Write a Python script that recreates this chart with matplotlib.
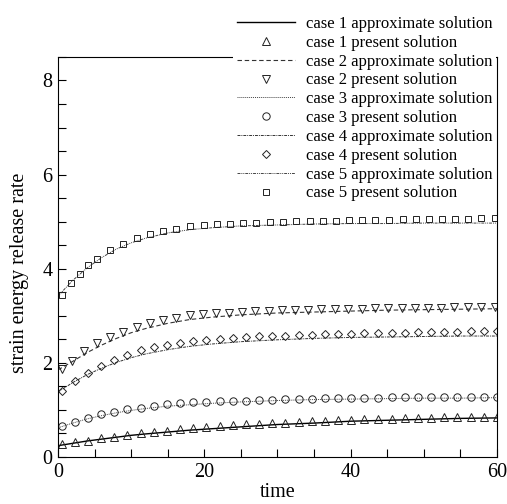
import matplotlib
matplotlib.use('Agg')
import matplotlib.pyplot as plt
from matplotlib.ticker import MultipleLocator

plt.rcParams['font.family'] = ['Liberation Serif', 'DejaVu Serif']

# marker times (present solution)
t_pts = [0.5, 2.3, 4.1, 5.9, 7.7, 9.5, 11.3, 13.1, 14.9, 16.7, 18.5, 20.3, 22.1, 23.9,
         25.7, 27.5, 29.3, 31.1, 32.9, 34.7, 36.5, 38.3, 40.1, 41.9, 43.8, 45.6, 47.4,
         49.2, 51.0, 52.8, 54.6, 56.4, 58.2, 60.0]
t_pts2 = [0.5, 1.9, 3.6, 5.3, 7.1, 8.9, 10.8, 12.6, 14.4, 16.1, 18.0, 19.8, 21.6, 23.4,
          25.1, 26.9, 28.8, 30.6, 32.4, 34.2, 36.0, 37.9, 39.7, 41.5, 43.3, 45.1, 47.0,
          48.8, 50.6, 52.4, 54.2, 56.1, 57.9, 59.8]
t_pts5 = [0.5, 1.8, 3.0, 4.1, 5.4, 7.1, 8.9, 10.8, 12.6, 14.4, 16.2, 18.1, 19.9, 21.7,
          23.5, 25.3, 27.1, 29.0, 30.8, 32.6, 34.4, 36.2, 38.0, 39.8, 41.6, 43.4, 45.3,
          47.1, 48.9, 50.7, 52.5, 54.3, 56.1, 57.9, 59.7]

case1_pts = [0.28, 0.32, 0.35, 0.40, 0.43, 0.47, 0.50, 0.54, 0.56, 0.59, 0.61, 0.63,
             0.65, 0.68, 0.70, 0.71, 0.72, 0.73, 0.74, 0.76, 0.77, 0.78, 0.79, 0.80,
             0.81, 0.81, 0.82, 0.83, 0.83, 0.84, 0.84, 0.85, 0.85, 0.85]
case2_pts = [1.88, 2.04, 2.26, 2.42, 2.55, 2.66, 2.77, 2.85, 2.91, 2.96, 3.01, 3.04,
             3.05, 3.06, 3.08, 3.10, 3.11, 3.12, 3.12, 3.13, 3.14, 3.14, 3.15, 3.15,
             3.16, 3.16, 3.16, 3.17, 3.17, 3.17, 3.18, 3.18, 3.18, 3.18]
case3_pts = [0.66, 0.75, 0.83, 0.91, 0.96, 1.01, 1.05, 1.08, 1.12, 1.15, 1.16, 1.17,
             1.18, 1.19, 1.20, 1.21, 1.22, 1.23, 1.24, 1.24, 1.25, 1.25, 1.26, 1.26,
             1.26, 1.27, 1.27, 1.27, 1.27, 1.28, 1.28, 1.28, 1.28, 1.28]
case4_pts = [1.41, 1.62, 1.78, 1.93, 2.07, 2.17, 2.27, 2.33, 2.38, 2.43, 2.47, 2.48,
             2.50, 2.53, 2.55, 2.56, 2.57, 2.58, 2.59, 2.60, 2.61, 2.62, 2.62, 2.63,
             2.63, 2.64, 2.64, 2.65, 2.65, 2.66, 2.66, 2.67, 2.67, 2.68]
case5_pts = [3.45, 3.70, 3.89, 4.07, 4.21, 4.39, 4.53, 4.65, 4.74, 4.81, 4.85, 4.91,
             4.93, 4.95, 4.96, 4.97, 4.98, 4.99, 5.00, 5.01, 5.01, 5.02, 5.02, 5.03,
             5.03, 5.04, 5.04, 5.05, 5.05, 5.05, 5.06, 5.06, 5.06, 5.07, 5.07]

# approximate solution curves
t_line = [0, 2, 4, 6, 8, 10, 12, 15, 18, 21, 25, 30, 35, 40, 45, 50, 55, 60]
case1_line = [0.24, 0.29, 0.34, 0.38, 0.42, 0.46, 0.49, 0.53, 0.57, 0.60, 0.64, 0.69,
              0.72, 0.76, 0.78, 0.80, 0.82, 0.83]
case2_line = [1.85, 2.03, 2.22, 2.38, 2.52, 2.64, 2.73, 2.84, 2.92, 2.97, 3.02, 3.06,
              3.08, 3.10, 3.12, 3.13, 3.14, 3.15]
case3_line = [0.62, 0.72, 0.81, 0.88, 0.94, 0.99, 1.03, 1.08, 1.11, 1.14, 1.17, 1.20,
              1.22, 1.23, 1.24, 1.25, 1.25, 1.26]
case4_line = [1.38, 1.58, 1.75, 1.89, 2.01, 2.11, 2.19, 2.28, 2.35, 2.40, 2.45, 2.49,
              2.52, 2.54, 2.55, 2.56, 2.57, 2.57]
case5_line = [3.42, 3.75, 4.02, 4.24, 4.42, 4.55, 4.65, 4.76, 4.83, 4.87, 4.91, 4.93,
              4.95, 4.96, 4.96, 4.97, 4.97, 4.97]

fig = plt.figure(figsize=(5.07, 5.04), dpi=100)
ax = fig.add_axes([0.1144, 0.0933, 0.8656, 0.7937])

mk = dict(linestyle='none', markerfacecolor='none', markeredgecolor='#222222',
          markeredgewidth=0.7, markersize=5.3)

ax.plot(t_line, case1_line, color='black', lw=1.0, label='case 1 approximate solution')
ax.plot(t_pts, case1_pts, marker='^', label='case 1 present solution', **mk)
ax.plot(t_line, case2_line, color='#333333', lw=0.8, linestyle=(0, (4, 2.5)),
        label='case 2 approximate solution')
ax.plot(t_pts2, case2_pts, marker='v', label='case 2 present solution', **mk)
ax.plot(t_line, case3_line, color='#444444', lw=0.7, linestyle=(0, (1, 1)),
        label='case 3 approximate solution')
ax.plot(t_pts, case3_pts, marker='o', label='case 3 present solution', **mk)
ax.plot(t_line, case4_line, color='#333333', lw=0.7, linestyle=(0, (3, 1, 1, 1)),
        label='case 4 approximate solution')
ax.plot(t_pts, case4_pts, marker='D', label='case 4 present solution',
        **{**mk, 'markersize': 4.5})
ax.plot(t_line, case5_line, color='#444444', lw=0.7, linestyle=(0, (3, 1, 1, 1, 1, 1)),
        label='case 5 approximate solution')
ax.plot(t_pts5, case5_pts, marker='s', label='case 5 present solution',
        **{**mk, 'markersize': 4.5})

ax.set_xlim(0, 60)
ax.set_ylim(0, 8.5)
ax.xaxis.set_major_locator(MultipleLocator(20))
ax.xaxis.set_minor_locator(MultipleLocator(5))
ax.yaxis.set_major_locator(MultipleLocator(2))
ax.yaxis.set_minor_locator(MultipleLocator(0.5))
ax.tick_params(which='both', direction='in', length=6, width=0.8, labelsize=14.5,
               top=False, right=False)
ax.tick_params(which='major', pad=4)
for s in ax.spines.values():
    s.set_linewidth(0.8)

ax.set_xlabel('time', fontsize=14.5, labelpad=1)
ax.set_ylabel('strain energy release rate', fontsize=14.5)
ax.yaxis.set_label_coords(-0.065, 0.46)

leg = fig.legend(loc='upper left', bbox_to_anchor=(0.46, 0.975), fontsize=12,
                 frameon=True, fancybox=False, framealpha=1, edgecolor='none',
                 facecolor='white', handlelength=3.5, handletextpad=0.65,
                 labelspacing=0.17, borderpad=0.2, borderaxespad=0)
leg.set_zorder(5)

fig.savefig('out.png', dpi=100)
